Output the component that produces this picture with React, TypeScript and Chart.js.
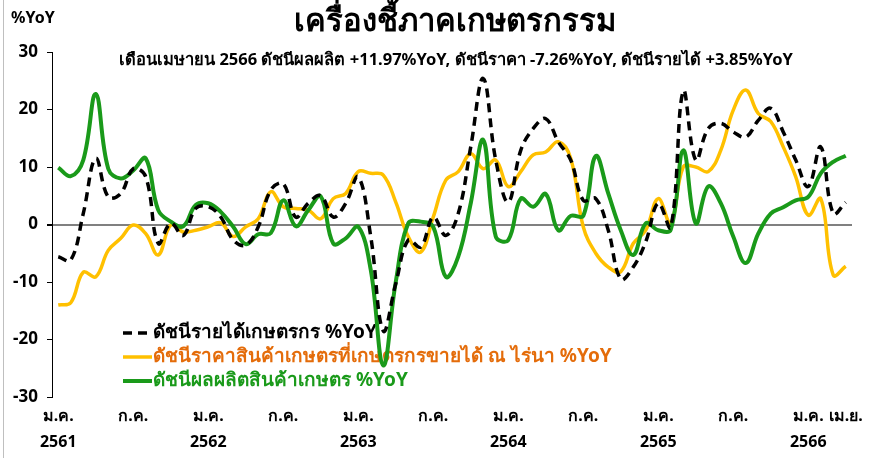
import React, { useEffect, useRef } from "react";
import { Chart, registerables } from "chart.js";

Chart.register(...registerables);

const months = ["ม.ค.","ก.พ.","มี.ค.","เม.ย.","พ.ค.","มิ.ย.","ก.ค.","ส.ค.","ก.ย.","ต.ค.","พ.ย.","ธ.ค."];
const years = ["2561","2562","2563","2564","2565","2566"];
const categories: string[] = [];
for (let y = 0; y < years.length; y++) {
  for (let m = 0; m < 12; m++) {
    if (y === 5 && m > 3) break;
    categories.push(months[m] + " " + years[y]);
  }
}

const incomeYoY = [
  -5.6, -6.2, 1.9, 11.5, 4.8, 5.4, 9.7, 8.3, -3.3, 0.2, -1.9, 2.8,
  3.1, 1.3, -2.7, -3.6, -0.4, 6.0, 7.1, 1.3, 3.7, 5.0, 1.3, 3.7,
  8.3, -2.1, -18.5, -10.3, -2.7, -3.9, 1.3, -1.9, 1.9, 13.5, 25.4, 11.2,
  3.9, 12.9, 16.7, 18.4, 14.4, 11.2, 4.2, 4.5, -1.0, -9.5, -7.4, -3.0,
  3.7, -0.5, 23.2, 11.2, 16.7, 17.6, 16.1, 15.2, 18.1, 20.2, 16.1, 11.2,
  6.6, 13.5, 1.9, 3.85,
];

const priceYoY = [
  -14.0, -13.6, -8.3, -9.1, -4.5, -2.4, -0.1, -1.6, -5.3, -0.1, -1.3, -1.0,
  -0.4, 0.3, -2.1, -0.4, 1.0, 5.7, 3.1, 2.8, 2.5, 1.0, 4.5, 5.4,
  9.2, 8.9, 8.6, 3.9, -2.1, -4.8, 1.3, 7.7, 9.2, 12.3, 9.7, 11.2,
  6.6, 9.2, 12.1, 12.6, 14.4, 11.5, -0.4, -5.0, -7.4, -8.2, -3.3, -1.0,
  4.5, 0.2, 10.0, 10.0, 9.2, 12.9, 19.9, 23.4, 19.3, 17.9, 13.5, 8.3,
  1.6, 4.5, -8.8, -7.26,
];

const outputYoY = [
  9.9, 8.4, 11.2, 22.7, 9.7, 8.0, 9.4, 11.5, 2.5, 0.5, -0.3, 3.4,
  3.7, 2.2, -0.4, -3.4, -1.7, -1.5, 4.2, -0.3, 2.5, 4.9, -3.3, -2.4,
  -0.4, -7.9, -24.5, -10.0, 0.2, 0.5, -0.4, -9.1, -5.6, 3.7, 14.7, -2.1,
  -2.7, 4.5, 3.1, 5.3, -1.0, 1.5, 1.5, 11.9, 5.4, -1.0, -5.3, 0.2,
  -1.0, -0.9, 12.9, 0.2, 6.6, 3.7, -2.1, -6.7, -1.6, 1.9, 3.0, 4.2,
  4.8, 8.9, 10.9, 11.97,
];

const yTicks = [30, 20, 10, 0, -10, -20, -30];

const titleText = "เครื่องชี้ภาคเกษตรกรรม";
const subtitleText = "เดือนเมษายน 2566 ดัชนีผลผลิต +11.97%YoY, ดัชนีราคา -7.26%YoY, ดัชนีรายได้ +3.85%YoY";
const yUnit = "%YoY";
const seriesNames = [
  "ดัชนีรายได้เกษตรกร %YoY",
  "ดัชนีราคาสินค้าเกษตรที่เกษตรกรขายได้ ณ ไร่นา %YoY",
  "ดัชนีผลผลิตสินค้าเกษตร %YoY",
];

const FONT = "Tahoma, 'Noto Sans', 'DejaVu Sans', sans-serif";
const BLACK = "#000000";
const ORANGE = "#FFC000";
const GREEN = "#1a9a1a";
const ORANGE_TEXT = "#E46C0A";

function tickLabel(i: number): string | string[] {
  const m = i % 12;
  const y = Math.floor(i / 12);
  if (m === 0) return [months[0], years[y]];
  if (m === 6) return months[6];
  if (i === categories.length - 1) return months[3];
  return "";
}

const textPlugin = {
  id: "textPlugin",
  beforeDatasetsDraw(chart: any) {
    const ctx = chart.ctx;
    ctx.save();
    const items = [
      { color: BLACK, text: BLACK, dash: [9, 6], name: seriesNames[0], w: 3.5 },
      { color: ORANGE, text: ORANGE_TEXT, dash: [], name: seriesNames[1], w: 3.5 },
      { color: GREEN, text: GREEN, dash: [], name: seriesNames[2], w: 4 },
    ];
    items.forEach((it, k) => {
      const y = 333 + k * 24;
      ctx.beginPath();
      ctx.setLineDash(it.dash);
      ctx.lineWidth = it.w;
      ctx.strokeStyle = it.color;
      ctx.moveTo(123, y);
      ctx.lineTo(152, y);
      ctx.stroke();
      ctx.setLineDash([]);
      ctx.fillStyle = it.text;
      ctx.font = "bold 19px " + FONT;
      ctx.textAlign = "left";
      ctx.textBaseline = "middle";
      ctx.fillText(it.name, 153, y);
    });
    ctx.restore();
  },
  afterDraw(chart: any) {
    const ctx = chart.ctx;
    ctx.save();
    ctx.strokeStyle = "#bfbfbf";
    ctx.lineWidth = 1;
    ctx.beginPath();
    ctx.moveTo(3.5, 0);
    ctx.lineTo(3.5, 458);
    ctx.stroke();
    ctx.fillStyle = "#000";
    ctx.textBaseline = "middle";
    ctx.textAlign = "center";
    ctx.font = "bold 31px " + FONT;
    ctx.fillText(titleText, 455, 22);
    ctx.font = "bold 16.5px " + FONT;
    ctx.fillText(subtitleText, 456, 60);
    ctx.textAlign = "left";
    ctx.font = "bold 16px " + FONT;
    ctx.fillText(yUnit, 11, 18);
    ctx.restore();
  },
};

export default function App() {
  const ref = useRef<HTMLCanvasElement | null>(null);
  useEffect(() => {
    document.body.style.margin = "0";
    const canvas = ref.current;
    if (!canvas) return;
    const chart = new Chart(canvas, {
      type: "line",
      data: {
        labels: categories,
        datasets: [
          {
            label: seriesNames[0],
            data: incomeYoY,
            borderColor: BLACK,
            borderWidth: 3.5,
            borderDash: [9, 6],
            pointRadius: 0,
            tension: 0.4,
            fill: false,
            order: 1,
          },
          {
            label: seriesNames[1],
            data: priceYoY,
            borderColor: ORANGE,
            borderWidth: 3.5,
            pointRadius: 0,
            tension: 0.4,
            fill: false,
            order: 3,
          },
          {
            label: seriesNames[2],
            data: outputYoY,
            borderColor: GREEN,
            borderWidth: 4,
            pointRadius: 0,
            tension: 0.4,
            fill: false,
            order: 2,
          },
        ],
      },
      options: {
        animation: false,
        responsive: false,
        maintainAspectRatio: false,
        layout: { padding: { top: 52, right: 21, left: 0, bottom: 0 } },
        plugins: {
          legend: { display: false },
          title: { display: false },
          tooltip: { enabled: false },
        },
        scales: {
          x: {
            type: "category",
            offset: true,
            grid: { display: false, drawTicks: false },
            border: { display: false },
            ticks: {
              autoSkip: false,
              maxRotation: 0,
              minRotation: 0,
              padding: 7,
              color: "#000",
              font: { family: FONT, size: 16, weight: "bold", lineHeight: 1.6 },
              callback: (_v: any, i: number) => tickLabel(i),
            },
            afterFit: (s: any) => { s.height = 61; },
          },
          y: {
            min: -30,
            max: 30,
            afterBuildTicks: (s: any) => { s.ticks = yTicks.map((v) => ({ value: v })); },
            grid: {
              drawOnChartArea: true,
              color: (c: any) => (c.tick && c.tick.value === 0 ? "#808080" : "rgba(0,0,0,0)"),
              lineWidth: (c: any) => (c.tick && c.tick.value === 0 ? 2 : 1),
              tickColor: "#000",
              tickLength: 5,
            },
            border: { display: true, color: "#000", width: 1 },
            ticks: {
              padding: 9,
              color: "#000",
              font: { family: FONT, size: 17, weight: "bold" },
            },
            afterFit: (s: any) => { s.width = 52; },
          },
        },
      },
      plugins: [textPlugin],
    });
    return () => chart.destroy();
  }, []);
  return (
    <div style={{ width: 873, height: 458, position: "relative", background: "#fff" }}>
      <canvas ref={ref} width={873} height={458} style={{ display: "block", width: 873, height: 458 }} />
    </div>
  );
}
